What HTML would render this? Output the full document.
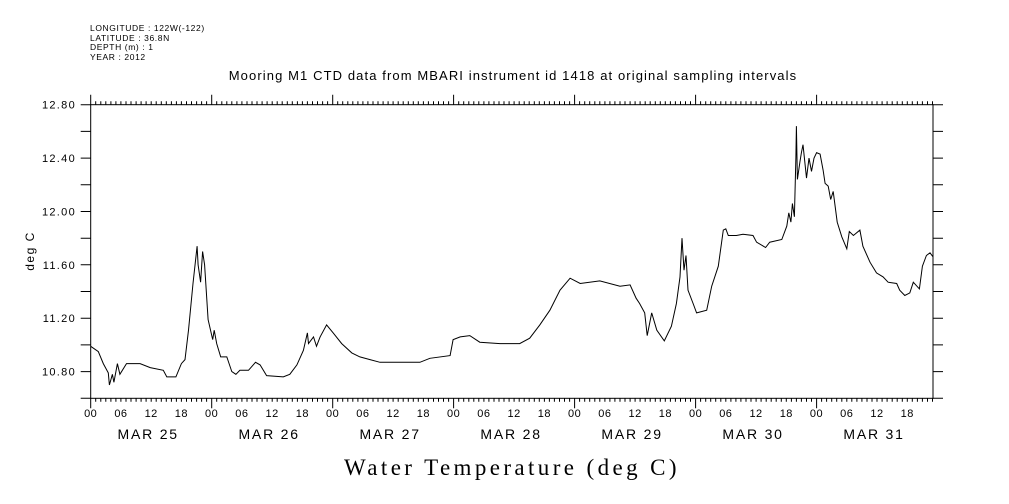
<!DOCTYPE html>
<html><head><meta charset="utf-8"><style>
html,body{margin:0;padding:0;background:#fff;width:1009px;height:504px;overflow:hidden}
svg{display:block;font-family:"Liberation Sans",sans-serif}
</style></head><body>
<svg id="chart" width="1009" height="504" viewBox="0 0 1009 504" xmlns="http://www.w3.org/2000/svg">
<g font-size="8.5" letter-spacing="0.6" fill="#000">
<text x="90" y="31">LONGITUDE : 122W(-122)</text>
<text x="90" y="41">LATITUDE : 36.8N</text>
<text x="90" y="50">DEPTH (m) : 1</text>
<text x="90" y="60">YEAR : 2012</text>
</g>
<text x="513" y="80" text-anchor="middle" font-size="13" letter-spacing="1.1">Mooring M1 CTD data from MBARI instrument id 1418 at original sampling intervals</text>
<text transform="translate(34,251) rotate(-90)" text-anchor="middle" font-size="12" letter-spacing="1.5">deg C</text>
<text x="512" y="475" text-anchor="middle" font-size="23" letter-spacing="3.4" font-family="'Liberation Serif',serif">Water Temperature (deg C)</text>
<g id="axes"></g>
<g id="series"></g>
</svg>
<script>
const hours = [0,1.5,2.5,3.5,3.7,4.3,4.6,5.3,5.8,7.1,9.8,11.8,14.4,15.1,16.9,18,18.7,19.4,20.3,21.1,21.3,21.8,22.2,22.6,23.3,24.2,24.5,25,25.8,27,28,28.8,29.6,31.3,32.7,33.6,34.9,38.2,39.5,40.9,42.2,43,43.2,44.2,44.8,45.5,46.8,48.1,49.8,51.8,53.4,55.4,57.4,65.3,67.3,71.3,71.9,73.3,75.2,77.2,81.2,85.1,87.1,89.1,91.1,93.1,95.1,97.1,101,105,107,108.2,108.9,109.9,110.4,111.3,112.3,113.8,115.2,116.2,116.9,117.3,117.7,118.1,118.5,119.5,120.2,122.2,123.2,124.5,125.5,126,126.5,128.1,129.4,131.4,132.1,133.9,134.7,137.1,138.1,138.5,138.9,139.2,139.6,139.9,140,140.2,140.7,141,141.3,142,142.5,143,143.5,144,144.7,145.3,145.7,146.3,146.8,147.3,148.1,149,150,150.5,151.3,152.6,153.2,154.6,155.9,157.2,158.2,159.9,160.5,161.5,162.5,163.2,164.4,165,165.8,166.5,167.1];
const temps = [10.99,10.95,10.86,10.79,10.70,10.78,10.72,10.86,10.78,10.86,10.86,10.83,10.81,10.76,10.76,10.86,10.89,11.11,11.46,11.74,11.60,11.47,11.70,11.60,11.19,11.04,11.11,11.01,10.91,10.91,10.80,10.78,10.81,10.81,10.87,10.85,10.77,10.76,10.78,10.85,10.96,11.09,11.01,11.06,10.99,11.06,11.15,11.09,11.01,10.94,10.91,10.89,10.87,10.87,10.90,10.92,11.04,11.06,11.07,11.02,11.01,11.01,11.05,11.15,11.26,11.41,11.50,11.46,11.48,11.44,11.45,11.35,11.31,11.24,11.07,11.24,11.11,11.03,11.14,11.31,11.51,11.80,11.56,11.67,11.41,11.31,11.24,11.26,11.44,11.59,11.86,11.87,11.82,11.82,11.83,11.82,11.77,11.73,11.77,11.79,11.89,11.99,11.92,12.06,11.96,12.41,12.64,12.24,12.37,12.44,12.50,12.25,12.40,12.30,12.40,12.44,12.43,12.31,12.21,12.19,12.09,12.15,11.92,11.81,11.72,11.85,11.82,11.86,11.74,11.62,11.54,11.51,11.47,11.46,11.41,11.37,11.39,11.47,11.42,11.59,11.67,11.69,11.66];
const yTickLabels = ["10.80","11.20","11.60","12.00","12.40","12.80"];
const hourLabels = ["00","06","12","18"];
const dayLabels = ["MAR 25","MAR 26","MAR 27","MAR 28","MAR 29","MAR 30","MAR 31"];

const L=90.7,R=933,T=104.7,B=398.3,H0=0,H1=167.1,Y0=10.6,Y1=12.8;
const sx=h=>L+(h-H0)/(H1-H0)*(R-L);
const sy=v=>B-(v-Y0)/(Y1-Y0)*(B-T);
const NS="http://www.w3.org/2000/svg";
function mk(tag,attrs,parent){const e=document.createElementNS(NS,tag);for(const k in attrs)e.setAttribute(k,attrs[k]);parent.appendChild(e);return e;}
const ax=document.getElementById('axes');
const frame=mk('rect',{x:L,y:T,width:R-L,height:B-T,fill:'none',stroke:'#000','stroke-width':1},ax);


let d='';
for(let h=0;h<=H1;h++){const x=sx(h).toFixed(1);const len=(h%24===0)?10:3.5;d+=`M${x} ${T}V${T-len}M${x} ${B}V${B+len}`;}
for(let v=10.6;v<=12.81;v+=0.2){const y=sy(v).toFixed(1);d+=`M${L} ${y}H${L-10}M${R} ${y}H${R+10}`;}
const ticks=mk('path',{d:d,stroke:'#000','stroke-width':1,fill:'none'},ax);


yTickLabels.forEach(s=>{const t=mk('text',{x:76,y:sy(parseFloat(s))+4,'text-anchor':'end','font-size':11,'letter-spacing':1.3},ax);t.textContent=s;

});
for(let day=0;day<7;day++){
  hourLabels.forEach((s,i)=>{const h=day*24+i*6;const t=mk('text',{x:sx(h),y:417,'text-anchor':'middle','font-size':11,'letter-spacing':0.5},ax);t.textContent=s;
  
  });
  const t=mk('text',{x:sx(day*24+12)-3,y:439,'text-anchor':'middle','font-size':14,'letter-spacing':1.8},ax);t.textContent=dayLabels[day];
  
  
}
const pts=hours.map((h,i)=>sx(h).toFixed(1)+','+sy(temps[i]).toFixed(1)).join(' ');
const line=mk('polyline',{points:pts,fill:'none',stroke:'#000','stroke-width':1},document.getElementById('series'));


</script>
</body></html>
